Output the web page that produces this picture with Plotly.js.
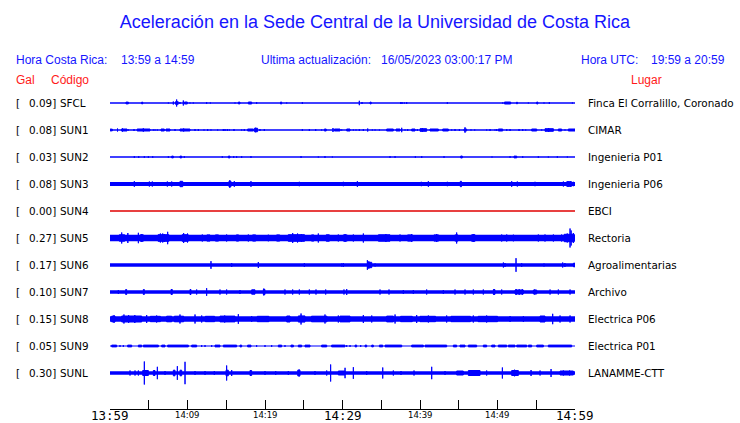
<!DOCTYPE html>
<html>
<head>
<meta charset="utf-8">
<script src="https://cdn.plot.ly/plotly-3.0.1.min.js"></script>
<style>html,body{margin:0;padding:0;background:#fff;}#chart{width:740px;height:423px;}</style>
</head>
<body>
<div id="chart"></div>
<script>
// ---------- DATA ----------
const codes  = ['SFCL','SUN1','SUN2','SUN3','SUN4','SUN5','SUN6','SUN7','SUN8','SUN9','SUNL'];
const galMax = ['0.09','0.08','0.03','0.08','0.00','0.27','0.17','0.10','0.15','0.05','0.30'];
const places = ['Finca El Corralillo, Coronado','CIMAR','Ingenieria P01','Ingenieria P06','EBCI','Rectoria',
                'Agroalimentarias','Archivo','Electrica P06','Electrica P01','LANAMME-CTT'];
// background noise half-amplitude of each trace (px of the drawn trace)
const noiseLevel = [0.75,0.75,0.75,2.0,0.5,3.2,1.7,1.7,2.8,0.6,1.7];
// tick marks (minutes after 13:59) and labels
const tickMinutes = [0,5,10,15,20,25,30,35,40,45,50,55,60];
const labelMinutes = [0,10,20,30,40,50,60];
const labelText = ['13:59','14:09','14:19','14:29','14:39','14:49','14:59'];
const labelBig  = [true,false,false,true,false,false,true];
// events read from the record: [start minute, end minute, half-amplitude]
const evSFCL = [[2.06,2.37,1.4],[4.09,4.22,1.4],[7.53,7.53,1],[8.17,8.17,2],[8.45,8.8,1.8],[8.6,8.6,4],[9.03,9.03,1.5],[9.46,9.46,3],[9.6,9.98,1.5],[10.32,10.32,1],[10.75,10.75,1],[12.47,12.47,1.5],[12.95,12.95,1],[16.13,16.13,1],[16.56,16.77,1.4],[17.85,18.28,1.5],[18.92,18.92,1.5],[22.0,22.15,1.5],[22.8,22.8,1],[24.82,24.82,1.5],[32.17,32.17,2.7],[32.52,32.52,1.5],[33.55,33.7,1.4],[37.51,37.51,1.5],[37.68,37.68,1.5],[37.98,37.98,1],[38.28,38.28,1.5],[43.53,43.53,1.5],[50.67,50.67,1],[50.9,51.7,1.5],[52.48,52.55,1.5],[53.98,53.98,1],[55.06,55.2,1.5],[56.0,56.0,1],[56.69,56.69,1.5],[59.66,59.66,1]];
const evSUN1 = [[0.0,0.3,1.4],[0.97,0.97,2],[1.5,2.2,1.5],[1.6,1.6,2.2],[2.37,2.37,1],[3.1,3.1,1.5],[3.5,5.16,1.5],[4.3,4.3,2.2],[5.59,5.59,1],[5.81,5.81,1],[6.11,6.11,1],[6.58,7.01,1.5],[7.23,7.74,1.5],[8.39,8.39,1.5],[9.03,10.32,1.5],[9.5,9.5,2],[10.97,10.97,1.5],[11.4,11.4,1.5],[12.13,12.13,1],[12.6,12.6,1.5],[13.03,13.03,1],[13.89,13.89,1],[14.62,14.62,1.5],[14.84,14.84,1.5],[15.14,15.14,1.5],[15.4,15.4,1],[16.0,16.0,1.5],[16.99,16.99,1],[17.33,17.33,1.5],[17.76,18.49,1.5],[18.62,19.05,2.2],[18.8,18.8,2.8],[19.35,19.35,1.5],[19.91,19.91,1.5],[24.82,24.82,1.5],[25.72,25.72,1.5],[26.54,26.54,1.5],[27.31,27.31,1],[27.66,27.9,1.5],[28.77,28.77,2.5],[28.95,29.68,1.5],
  [29.9,29.9,1],[30.54,30.97,1.5],[31.4,31.4,1],[31.74,31.74,1],[32.17,32.17,1.5],[32.69,32.69,1.5],[33.25,33.25,2],[33.85,33.85,1],[34.2,34.2,1],[34.76,34.76,1],[35.7,36.56,1.5],[36.91,37.42,1.5],[37.64,37.64,2.7],[38.07,38.07,1],[38.41,38.41,1.5],[38.93,39.36,1.5],[39.66,39.66,1.5],[40.0,40.86,1.8],[40.3,40.3,2.5],[41.29,42.37,1.5],[42.93,43.66,1.5],[44.09,44.09,1],[44.52,44.52,1.5],[45.08,45.08,1.5],[45.68,46.02,1.5],[45.81,45.81,3.2],[46.58,46.58,1],[47.06,47.06,1],[48.6,48.6,1],[49.04,49.04,1.5],[49.68,49.68,1],[49.89,49.89,1.5],[50.11,50.67,1.5],[51.19,51.19,1.5],[51.62,51.62,1.5],[52.78,52.78,1.5],[53.25,53.25,1.5],[53.64,53.64,1],[54.41,55.06,1.5],[55.7,55.7,1],[56.13,57.21,1.8],[56.6,56.6,2.5],[57.85,58.28,1.5],[58.71,58.71,1],[59.14,60,1.5]];
const evSUN2 = [[3.14,3.14,1.4],[3.7,3.7,1.4],[4.43,4.43,1.3],[4.95,4.95,1.4],[5.51,5.51,1.3],[7.53,7.53,1.3],[7.96,8.17,1.4],[9.03,9.25,1.4],[9.59,9.59,1.3],[14.49,14.49,1.3],[15.27,15.48,1.4],[15.96,15.96,1.4],[16.34,16.34,1.3],[16.99,16.99,1.3],[18.19,18.19,1.4],[24.65,24.65,1.4],[26.88,26.88,1],[27.74,27.74,1.4],[28.69,28.69,1],
  [36.13,36.13,1.4],[36.78,36.78,1.3],[39.4,39.4,1.3],[40.22,40.22,1.4],[43.1,43.1,1.3],[45.25,45.46,1.5],[49.29,49.29,1],[51.62,51.62,1.3],[52.13,52.48,1.4],[53.25,53.25,1.3],[55.27,55.27,1.3],[56.56,56.56,1],[57.72,57.72,1.3],[59.01,59.01,1]];
const evSUN3 = [[1.85,1.85,2.3],[3.14,3.14,3.3],[5.08,5.08,3],[5.46,5.46,3],[7.4,7.4,3],[7.96,7.96,3],[9.03,9.38,3.2],[15.35,15.61,3.3],[15.45,15.45,4.2],[16.04,16.04,3.3],[18.19,18.19,3.3],[24.43,24.43,2.7],[30.11,30.11,2.7],
  [31.92,31.92,3.3],[36.05,36.05,2.3],[40.17,40.17,2.7],[41.08,41.08,3.3],[43.27,43.27,2.3],[43.53,43.53,2.7],[45.2,45.35,3.2],[51.83,51.83,3.3],[52.56,52.56,3],[53.98,53.98,2.3],[54.84,54.84,2.7],[58.5,58.5,3],[58.93,59.57,2.8],[59.1,59.1,3.3],[59.4,59.4,3.3],[59.79,59.79,2.7]];
const evSUN4 = [];
const evSUN5 = [[1.2,1.9,3.7],[1.51,1.51,6],[2.3,2.3,5.5],[3.66,3.66,5.7],[3.9,4.3,3.7],[4.1,4.1,4.5],[6.2,7.6,3.8],[6.5,6.5,5],[7.0,7.0,4.5],[7.44,7.44,6.7],[6.8,6.8,5],[9.3,10.1,3.8],[9.5,9.5,5.5],[10.0,10.0,5],[11.91,11.91,4],[12.5,12.9,3.6],[13.6,14.0,3.6],[15.05,15.05,4],[16.3,16.6,3.6],[17.85,17.85,4],[18.4,18.8,3.6],[20.43,20.43,3.8],[21.5,21.9,3.6],[23.0,25.1,3.8],[23.57,23.57,5.5],[24.2,24.2,5],[24.7,24.7,4.5],[26.88,26.88,5],[26.0,26.3,3.6],[27.9,28.3,3.7],[29.46,29.46,4],
  [30.33,30.33,4.5],[30.1,30.6,3.6],[31.4,31.4,4],[32.69,32.69,5],[34.63,36.13,3.7],[35.6,35.6,4.5],[37.42,37.42,4],[38.93,38.93,4.5],[38.4,39.0,3.6],[42.15,42.15,4.5],[41.8,42.4,3.6],[44.73,44.73,6],[44.5,44.9,3.6],[46.67,47.1,3.8],[46.9,46.9,4.5],[50.54,50.54,4],[51.19,51.19,4],[52.05,52.05,3.8],[55.27,55.27,4],[56.13,56.13,4],[57.21,57.21,4],[58.28,58.28,4],[58.6,59.9,4.2],[59.0,59.0,5],[59.36,59.36,10],[59.5,59.5,8],[59.79,59.79,5.5]];
const evSUN6 = [[13.03,13.03,4.3],[15.7,15.7,2.5],[19.14,19.14,3.5],[25.08,25.08,2.5],[29.9,29.9,2],[30.11,30.11,2.5],[33.21,33.21,5.3],[33.25,33.77,3.2],[33.4,33.4,4.2],[34.2,34.2,2],[50.76,50.76,3],[50.97,50.97,2.5],[52.39,52.39,7.3],[53.12,53.12,2.3],[56.0,56.0,2],[58.41,58.41,3],[58.7,58.7,2.5],[59.8,60,2.3]];
const evSUN7 = [[1.08,1.08,2.5],[2.02,2.15,3],[4.3,4.43,3],[7.87,8.04,3],[10.32,10.45,3],[11.18,11.18,3],[12.47,12.47,4.3],[14.19,14.19,3],[15.05,15.05,3],[16.77,16.77,2.5],[18.28,18.71,2.7],[19.78,20.0,3],[19.85,19.85,4],[22.58,22.58,3],[23.57,23.57,3],[24.43,24.43,3],[25.72,25.72,3],[26.58,26.58,3],[27.83,27.83,3],[30.19,30.19,3],
  [30.54,30.54,3.5],[34.84,34.84,3],[36.0,36.0,3],[37.85,37.85,2.5],[39.14,39.14,2.5],[40.86,40.86,3],[43.01,43.01,2.5],[44.52,44.52,3],[45.81,45.81,3],[46.88,46.88,3],[48.17,48.17,3],[49.46,49.68,2.8],[49.55,49.55,3.5],[50.54,50.54,3],[52.26,53.34,2.5],[52.4,52.4,3.5],[52.8,52.8,3.3],[53.2,53.2,3.3],[54.63,55.06,2.5],[54.8,54.8,3],[56.78,56.78,3],[57.85,57.85,3],[59.36,59.36,3]];
const evSUN8 = [[0.22,0.65,3.4],[0.52,0.52,4.3],[1.51,4.09,3.5],[1.8,1.8,5],[2.4,2.4,4.5],[3.2,3.2,4.5],[4.73,4.73,4.5],[5.2,6.5,3.2],[6.02,6.02,4],[7.31,7.96,3.3],[8.3,9.5,3.3],[9.03,9.03,5],[10.97,10.97,5],[11.83,11.83,4],[12.3,13.5,3.2],[14.19,16.13,3.4],[14.8,14.8,4],[16.56,16.56,5.3],[18.28,18.28,3.5],[19.0,20.5,3.2],[20.22,20.22,3.5],[22.8,23.23,3.5],[24.3,25.16,3.6],[24.65,24.65,6],[26.0,28.0,3.3],[27.74,27.74,5],[29.46,29.46,4],
  [29.68,30.97,3.4],[32.69,32.69,4.5],[33.77,33.77,4],[35.7,36.56,3.4],[36.78,36.78,5],[37.5,39.0,3.2],[39.57,39.57,4.5],[40.0,42.0,3.2],[41.08,41.08,4],[43.44,43.44,4],[44.0,46.5,3.2],[46.88,46.88,4],[47.5,50.0,3.2],[48.6,48.6,4],[51.62,51.62,3.5],[53.34,53.34,3.5],[55.49,56.13,3.5],[57.12,57.12,5.7],[58.07,58.07,4],[59.36,59.36,4]];
const evSUN9 = [[0.22,0.86,1.4],[1.29,1.29,1.4],[1.72,1.72,1.4],[2.28,2.8,1.4],[3.66,4.09,1.4],[4.3,6.24,1.4],[6.67,7.1,1.4],[7.44,10.11,1.4],[10.54,11.18,1.4],[11.83,11.83,1.4],[12.26,12.26,1.4],[13.12,13.12,1.4],[13.55,14.19,1.4],[14.62,16.34,1.4],[16.77,16.99,1.4],[17.76,18.19,1.4],[18.92,18.92,1.4],[20.0,20.0,1.4],[20.86,20.86,1.4],[21.72,22.15,1.4],[22.58,22.58,1.4],[23.35,23.66,1.4],[24.3,24.73,1.4],[25.16,25.81,1.4],[27.31,27.96,1.4],[28.6,30.32,1.4],
  [30.54,30.54,1.4],[30.97,30.97,1.4],[31.62,31.83,1.4],[32.35,32.35,1.4],[32.91,33.12,1.4],[33.77,33.98,1.4],[34.76,35.19,1.4],[35.49,37.64,1.4],[38.93,40.43,1.4],[40.65,43.44,1.4],[44.3,44.73,1.4],[45.16,45.81,1.4],[46.24,47.31,1.4],[48.17,48.6,1.4],[49.25,49.68,1.4],[50.11,51.19,1.4],[51.4,52.26,1.4],[52.48,53.77,1.4],[53.98,54.41,1.4],[55.06,55.92,1.4],[56.56,59.57,1.4]];
const evSUNL = [[2.58,2.58,3],[3.23,3.23,3],[3.66,3.66,3],[4.22,4.95,3],[4.43,4.43,12],[5.59,5.81,3],[6.11,6.11,6.7],[7.1,7.1,2.5],[8.17,8.39,3.3],[8.69,8.69,7.3],[9.03,9.25,3.3],[9.68,9.68,11.7],[10.97,10.97,2.5],[12.26,12.26,2.5],[13.46,13.46,2.5],[14.97,15.27,3.3],[15.05,15.05,8],[15.7,15.7,3.5],[18.06,18.28,3],[20.0,20.0,2.5],[21.38,21.38,2.5],[23.01,23.01,2.5],[24.22,24.52,3.3],[24.4,24.4,4],[26.45,26.45,2.5],[27.96,27.96,3],[28.47,28.47,9],[29.46,30.32,2.5],
  [30.33,30.33,5.7],[31.4,31.4,6.3],[33.12,33.12,2.5],[35.19,35.19,6],[36.56,36.56,3],[37.55,37.55,2.5],[39.23,39.23,3],[41.51,41.51,6.7],[43.23,43.23,2.5],[44.73,45.59,2.5],[46.24,47.75,3],[46.6,46.6,3.5],[47.3,47.3,3.5],[48.6,48.6,3],[50.63,50.63,6],[51.83,52.69,3],[52.2,52.2,3.8],[54.33,54.33,3.5],[55.49,55.49,3],[56.91,56.91,4.5],[58.07,59.79,2.5],[58.5,58.5,3],[59.3,59.3,3]];
const events = [evSFCL,evSUN1,evSUN2,evSUN3,evSUN4,evSUN5,evSUN6,evSUN7,evSUN8,evSUN9,evSUNL];

// ---------- LAYOUT CONSTANTS ----------
const ROW_GAP = 27;            // y-units (=px) between trace baselines
const L = 110, R = 575, T = 90, B = 409;
const TRACE = '#0000ff', DEAD = '#e00000', BLUE = '#1515ff', RED = '#ff1a1a';
const px2x = p => (p - L) / (R - L);
const py2y = p => (B - p) / (B - T);
const rowY = i => -ROW_GAP * i;

const traces = [];
codes.forEach((c, i) => {
  const yc = rowY(i);
  const dead = galMax[i] === '0.00';
  traces.push({
    type: 'scatter', mode: 'lines', x: [0, 60], y: [yc, yc],
    line: {color: dead ? DEAD : TRACE, width: dead ? 1.5 : 2 * noiseLevel[i]},
    hoverinfo: 'skip', showlegend: false
  });
  const xs = [], ys = [];
  events[i].forEach(([t0, t1, a]) => {
    const h = Math.max(a - 0.5, 0.3);
    xs.push(t0, t1, t1, t0, t0, null);
    ys.push(yc - h, yc - h, yc + h, yc + h, yc - h, null);
  });
  if (xs.length) traces.push({
    type: 'scatter', mode: 'lines', x: xs, y: ys, fill: 'toself',
    fillcolor: TRACE, line: {color: TRACE, width: 1},
    hoverinfo: 'skip', showlegend: false
  });
});

const ann = [];
const hdr = (text, px, py, color, size, fam) => ann.push({
  text, xref: 'paper', yref: 'paper', x: px2x(px), y: py2y(py),
  xanchor: 'left', yanchor: 'middle', showarrow: false,
  font: {family: fam || 'Liberation Sans, Arial, sans-serif', size: size || 12, color}
});
hdr('Hora Costa Rica:', 14, 60, BLUE);
hdr('13:59 a 14:59', 119, 60, BLUE);
hdr('Ultima actualización:', 259, 60, BLUE);
hdr('16/05/2023 03:00:17 PM', 379, 60, BLUE);
hdr('Hora UTC:', 579, 60, BLUE);
hdr('19:59 a 20:59', 649, 60, BLUE);
hdr('Gal', 14, 80, RED);
hdr('Código', 49, 80, RED);
hdr('Lugar', 629, 80, RED);

const dv = 'DejaVu Sans, sans-serif';
codes.forEach((c, i) => {
  const base = {xref: 'paper', yref: 'y', y: rowY(i), xanchor: 'left', yanchor: 'middle',
                showarrow: false, font: {family: dv, size: 10.4, color: '#000'}};
  ann.push(Object.assign({}, base, {text: '[', x: px2x(14)}));
  ann.push(Object.assign({}, base, {text: galMax[i] + ']', x: px2x(27)}));
  ann.push(Object.assign({}, base, {text: c, x: px2x(58)}));
  ann.push(Object.assign({}, base, {text: places[i], x: px2x(586)}));
});
labelMinutes.forEach((m, k) => {
  ann.push({
    text: labelText[k], xref: 'x', yref: 'paper', x: m, y: py2y(labelBig[k] ? 415.5 : 415),
    xanchor: 'center', yanchor: 'middle', showarrow: false, borderpad: 0,
    font: labelBig[k] ? {family: 'DejaVu Sans Mono, monospace', size: 12.5, color: '#000'}
                      : {family: dv, size: 8.5, color: '#000'}
  });
});

const layout = {
  width: 740, height: 423,
  margin: {l: L, r: 740 - R, t: T, b: 423 - B, pad: 0},
  paper_bgcolor: '#fff', plot_bgcolor: '#fff',
  showlegend: false,
  title: {text: 'Aceleración en la Sede Central de la Universidad de Costa Rica',
          x: 375 / 740, xanchor: 'center', y: 1 - 22 / 423, yanchor: 'middle',
          font: {family: 'Liberation Sans, Arial, sans-serif', size: 18, color: BLUE}},
  xaxis: {range: [0, 60], tickvals: tickMinutes, ticks: 'inside', ticklen: 9, tickwidth: 1,
          tickcolor: '#000', showticklabels: false, showline: true, linecolor: '#000', linewidth: 1,
          showgrid: false, zeroline: false, fixedrange: true},
  yaxis: {range: [-306, 13], visible: false, showgrid: false, zeroline: false, fixedrange: true},
  annotations: ann
};
Plotly.newPlot('chart', traces, layout, {staticPlot: true, displayModeBar: false});
</script>
</body>
</html>
